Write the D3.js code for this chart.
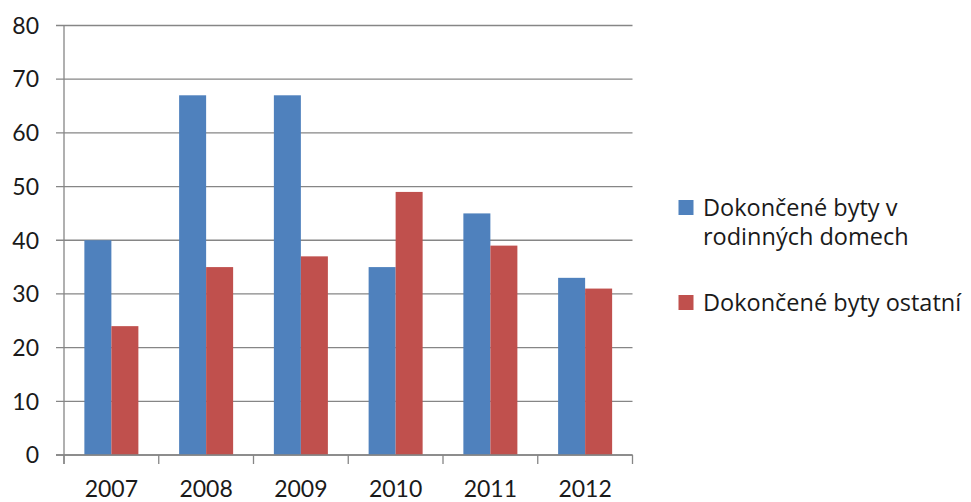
<script src="https://cdn.jsdelivr.net/npm/d3@7"></script>
<style>
  body { margin: 0; background: #fff; }
  text { font-family: Lato, "Open Sans", sans-serif; fill: #1a1a1a; }
</style>
<svg id="chart"></svg>
<script>
  // data
  const years = ["2007", "2008", "2009", "2010", "2011", "2012"];
  const rodinne = [40, 67, 67, 35, 45, 33];
  const ostatni = [24, 35, 37, 49, 39, 31];
  const seriesNames = ["Dokončené byty v rodinných domech", "Dokončené byty ostatní"];
  const legendLines = [["Dokončené byty v", "rodinných domech"], ["Dokončené byty ostatní"]];
  const yTicks = [0, 10, 20, 30, 40, 50, 60, 70, 80];
  const colors = ["#4F81BD", "#C0504D"];

  const W = 971, H = 502;
  const plotLeft = 64, plotRight = 632.5, plotTop = 25.5, plotBottom = 455;

  const svg = d3.select("#chart").attr("width", W).attr("height", H);

  const x0 = d3.scaleBand().domain(years).range([plotLeft, plotRight]);
  const bw = x0.bandwidth();
  const gap = bw * 0.43;
  const x1 = d3.scaleBand().domain(seriesNames).range([gap / 2, bw - gap / 2]);
  const y = d3.scaleLinear().domain([0, 80]).range([plotBottom, plotTop]);

  // gridlines (with the little tick stubs to the left)
  svg.append("g").selectAll("line")
    .data(yTicks)
    .enter().append("line")
    .attr("x1", plotLeft - 8)
    .attr("x2", plotRight)
    .attr("y1", d => y(d))
    .attr("y2", d => y(d))
    .attr("stroke", "#868686")
    .attr("stroke-width", 1.3);

  // y labels
  svg.append("g").selectAll("text")
    .data(yTicks)
    .enter().append("text")
    .attr("x", 39)
    .attr("y", d => y(d))
    .attr("dy", "0.36em")
    .attr("text-anchor", "end")
    .attr("font-size", 23)
    .text(d => d);

  // bars
  const rows = years.map((yr, i) => ({ year: yr, vals: [rodinne[i], ostatni[i]] }));
  const groups = svg.append("g").selectAll("g")
    .data(rows)
    .enter().append("g")
    .attr("transform", d => "translate(" + x0(d.year) + ",0)");

  groups.selectAll("rect")
    .data(d => d.vals.map((v, k) => ({ name: seriesNames[k], v: v, k: k })))
    .enter().append("rect")
    .attr("x", d => x1(d.name))
    .attr("y", d => y(d.v))
    .attr("width", x1.bandwidth())
    .attr("height", d => plotBottom - y(d.v))
    .attr("fill", d => colors[d.k]);

  // axes lines
  svg.append("line")
    .attr("x1", plotLeft).attr("x2", plotLeft)
    .attr("y1", plotTop).attr("y2", plotBottom + 9)
    .attr("stroke", "#868686").attr("stroke-width", 1.3);

  svg.append("line")
    .attr("x1", plotLeft - 8).attr("x2", plotRight)
    .attr("y1", plotBottom).attr("y2", plotBottom)
    .attr("stroke", "#868686").attr("stroke-width", 1.3);

  // category ticks on x axis
  const tickPos = years.map(d => x0(d)).concat([plotRight]);
  svg.append("g").selectAll("line")
    .data(tickPos)
    .enter().append("line")
    .attr("x1", d => d).attr("x2", d => d)
    .attr("y1", plotBottom).attr("y2", plotBottom + 9)
    .attr("stroke", "#868686").attr("stroke-width", 1.3);

  // x labels
  svg.append("g").selectAll("text")
    .data(years)
    .enter().append("text")
    .attr("x", d => x0(d) + bw / 2)
    .attr("y", 497)
    .attr("text-anchor", "middle")
    .attr("font-size", 23)
    .text(d => d);

  // legend
  const legendY = [200, 295];
  const legend = svg.append("g").selectAll("g")
    .data(legendLines)
    .enter().append("g")
    .attr("transform", (d, i) => "translate(678.5," + legendY[i] + ")");

  legend.append("rect")
    .attr("width", 15).attr("height", 15)
    .attr("fill", (d, i) => colors[i]);

  legend.append("text")
    .attr("font-size", 23.5)
    .style("font-family", "'Open Sans', sans-serif")
    .selectAll("tspan")
    .data(d => d)
    .enter().append("tspan")
    .attr("x", 24.5)
    .attr("y", (d, j) => 16 + j * 29)
    .text(d => d);
</script>
